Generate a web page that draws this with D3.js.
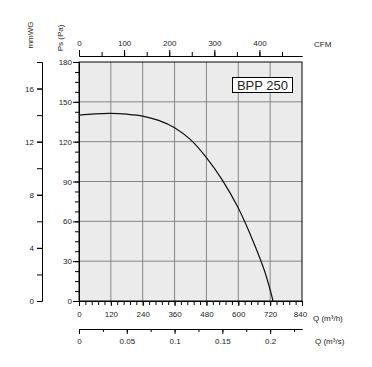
<!DOCTYPE html>
<html>
<head>
<meta charset="utf-8">
<script src="https://cdn.jsdelivr.net/npm/d3@7"></script>
<style>
  body { margin: 0; background: #fff; }
  text { font-family: "Liberation Sans", Arial, sans-serif; fill: #222; }
</style>
</head>
<body>
<div id="chart"></div>
<script>
// fan curve: flow (m3/h) vs static pressure (Pa)
var flow     = [0, 60, 120, 180, 240, 300, 360, 420, 480, 540, 600, 660, 700, 731];
var pressure = [140, 141, 141.3, 140.7, 139.3, 136, 130.5, 121.5, 108, 91, 70, 43, 22, 0];

// tick values
var qTicks   = [0, 120, 240, 360, 480, 600, 720, 840];
var paTicks  = [0, 30, 60, 90, 120, 150, 180];
var mmTicks  = [0, 4, 8, 12, 16];
var cfmTicks = [0, 100, 200, 300, 400];
var qsTicks  = [0, 0.05, 0.1, 0.15, 0.2];
var model = "BPP 250";

var W = 372, H = 367;
var plotL = 79, plotR = 302, plotT = 62, plotB = 301;

var svg = d3.select("#chart").append("svg")
    .attr("width", W)
    .attr("height", H);

// scales
var x = d3.scaleLinear().domain([0, 840]).range([plotL, plotR]);
var y = d3.scaleLinear().domain([0, 180]).range([plotB, plotT]);
var mm = d3.scaleLinear().domain([0, 18]).range([plotB, plotT]);
var cfm = d3.scaleLinear().domain([0, 840 / 1.699]).range([plotL, plotR]);
var qs = d3.scaleLinear().domain([0, 840 / 3600]).range([plotL, plotR]);

// plot background
svg.append("rect")
    .attr("x", plotL).attr("y", plotT)
    .attr("width", plotR - plotL).attr("height", plotB - plotT)
    .attr("fill", "#ebebeb");

// grid
svg.append("g").selectAll("line")
    .data(qTicks.slice(1, -1))
  .enter().append("line")
    .attr("x1", function(d) { return x(d); })
    .attr("x2", function(d) { return x(d); })
    .attr("y1", plotT).attr("y2", plotB)
    .attr("stroke", "#858585");
svg.append("g").selectAll("line")
    .data(paTicks.slice(1, -1))
  .enter().append("line")
    .attr("y1", function(d) { return y(d); })
    .attr("y2", function(d) { return y(d); })
    .attr("x1", plotL).attr("x2", plotR)
    .attr("stroke", "#858585");

function styleAxis(g) {
  g.selectAll("text").style("font-size", "8px").attr("fill", "#222");
  g.selectAll("path, line").attr("stroke", "#000");
}

// minor ticks helper
function minor(axis, scale, step, size) {
  var vals = d3.range(scale.domain()[0], scale.domain()[1] + 1e-9, step);
  return axis(scale).tickValues(vals).tickSize(size).tickSizeOuter(0).tickFormat("");
}

// bottom Q (m3/h)
svg.append("g")
    .attr("transform", "translate(0," + plotB + ")")
    .call(minor(d3.axisBottom, x, 24, 4))
    .call(styleAxis);
svg.append("g")
    .attr("transform", "translate(0," + plotB + ")")
    .call(d3.axisBottom(x).tickValues(qTicks).tickSize(5).tickSizeOuter(0).tickPadding(5))
    .call(styleAxis)
    .selectAll("text")
    .attr("dx", function(d) { return d === 840 ? -2 : 0; });

// second bottom Q (m3/s)
svg.append("g")
    .attr("transform", "translate(0,329)")
    .call(minor(d3.axisBottom, qs, 0.025, 3))
    .call(styleAxis);
svg.append("g")
    .attr("transform", "translate(0,329)")
    .call(d3.axisBottom(qs).tickValues(qsTicks).tickSize(5).tickSizeOuter(0).tickPadding(4)
      .tickFormat(function(d) { return d === 0 ? "0" : String(d); }))
    .call(styleAxis);

// top CFM
svg.append("g")
    .attr("transform", "translate(0,56)")
    .call(minor(d3.axisTop, cfm, 50, 4))
    .call(styleAxis);
svg.append("g")
    .attr("transform", "translate(0,56)")
    .call(d3.axisTop(cfm).tickValues(cfmTicks).tickSize(6).tickSizeOuter(0).tickPadding(4))
    .call(styleAxis);

// left Pa axis
svg.append("g")
    .attr("transform", "translate(" + plotL + ",0)")
    .call(minor(d3.axisLeft, y, 7.5, 4))
    .call(styleAxis);
svg.append("g")
    .attr("transform", "translate(" + plotL + ",0)")
    .call(d3.axisLeft(y).tickValues(paTicks).tickSize(6).tickSizeOuter(0).tickPadding(1))
    .call(styleAxis);

// mmWG axis
svg.append("g")
    .attr("transform", "translate(42,0)")
    .call(minor(d3.axisLeft, mm, 2, 5))
    .call(styleAxis);
svg.append("g")
    .attr("transform", "translate(42,0)")
    .call(d3.axisLeft(mm).tickValues(mmTicks).tickSize(5).tickSizeOuter(0).tickPadding(3))
    .call(styleAxis);

// plot frame
svg.append("rect")
    .attr("x", plotL).attr("y", plotT)
    .attr("width", plotR - plotL).attr("height", plotB - plotT)
    .attr("fill", "none")
    .attr("stroke", "#000");

// fan curve
var pts = flow.map(function(d, i) { return [d, pressure[i]]; });
svg.append("path")
    .datum(pts)
    .attr("d", d3.line()
      .x(function(d) { return x(d[0]); })
      .y(function(d) { return y(d[1]); })
      .curve(d3.curveCatmullRom))
    .attr("fill", "none")
    .attr("stroke", "#111")
    .attr("stroke-width", 1.2);

// model label
svg.append("rect")
    .attr("x", 232.5).attr("y", 77.5)
    .attr("width", 60).attr("height", 15)
    .attr("fill", "#fff")
    .attr("stroke", "#000");
svg.append("text")
    .attr("x", 262.5).attr("y", 89.5)
    .attr("text-anchor", "middle")
    .style("font-size", "13px")
    .text(model);

// axis titles
svg.append("text")
    .attr("x", 314).attr("y", 47)
    .style("font-size", "8px")
    .text("CFM");
svg.append("text")
    .attr("x", 313).attr("y", 321)
    .style("font-size", "8px")
    .text("Q (m³/h)");
svg.append("text")
    .attr("x", 315).attr("y", 344)
    .style("font-size", "8px")
    .text("Q (m³/s)");
svg.append("text")
    .attr("transform", "translate(33,35) rotate(-90)")
    .attr("text-anchor", "middle")
    .style("font-size", "8px")
    .text("mmWG");
svg.append("text")
    .attr("transform", "translate(63,38) rotate(-90)")
    .attr("text-anchor", "middle")
    .style("font-size", "8px")
    .text("Ps (Pa)");
</script>
</body>
</html>
